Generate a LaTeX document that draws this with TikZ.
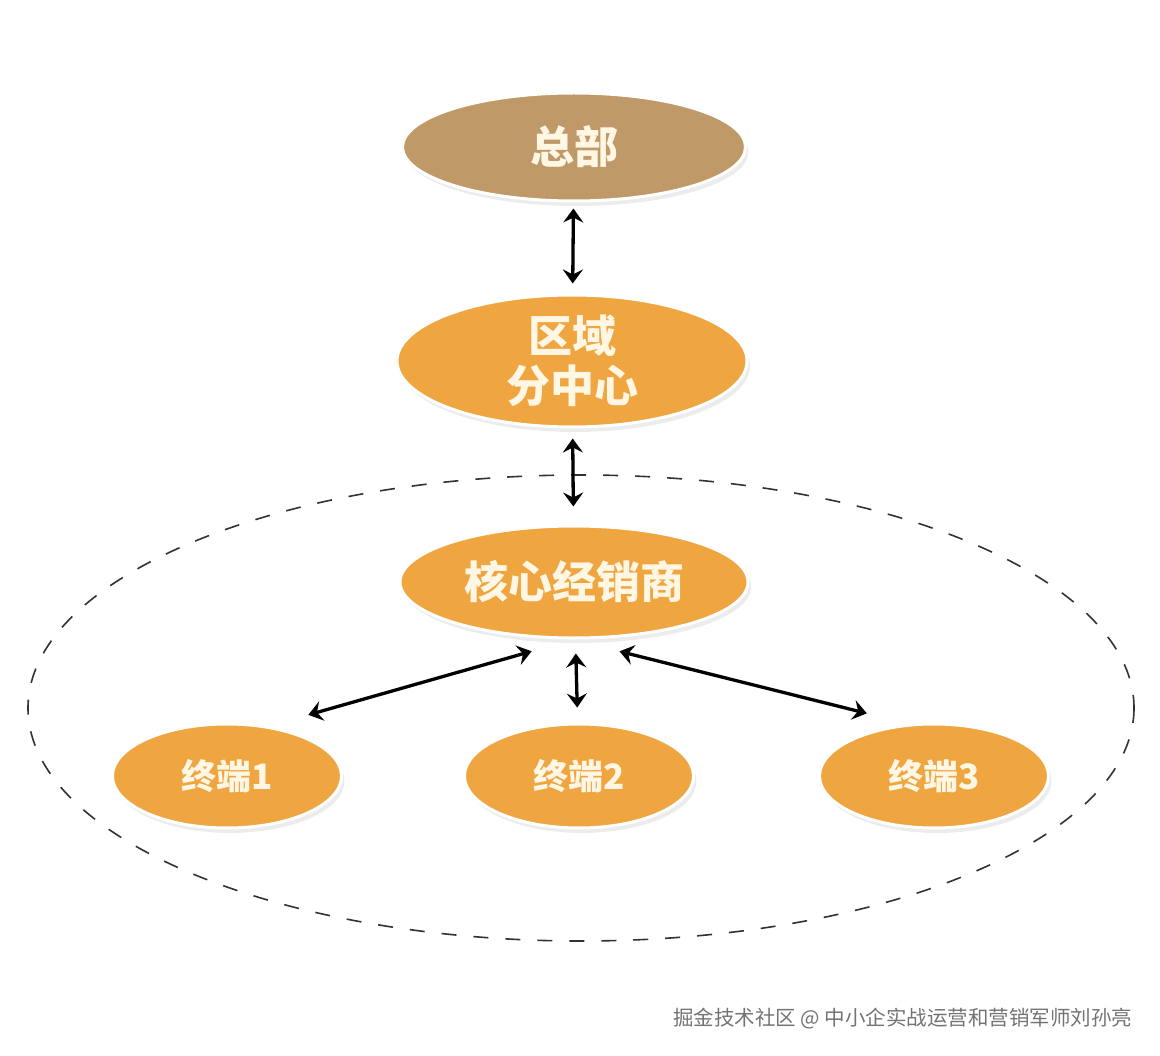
\documentclass[tikz,border=0pt]{standalone}
\usepackage{fontspec}
\newfontfamily\cjk{Noto Sans CJK SC}
\usetikzlibrary{shapes.geometric,arrows.meta,shadows}
\definecolor{hqtan}{RGB}{192,153,104}
\definecolor{unitorange}{RGB}{239,165,64}
\definecolor{labelcream}{RGB}{255,246,228}
\definecolor{ringgray}{RGB}{50,50,50}

\begin{document}
\begin{tikzpicture}[x=1pt, y=-1pt,
    unit/.style={ellipse, draw=white, line width=3pt, fill=unitorange, inner sep=0pt,
        text=labelcream, align=center, font=\cjk\bfseries\fontsize{44}{50}\selectfont,
        drop shadow={shadow xshift=3pt, shadow yshift=-5pt, opacity=0.15}},
    link/.style={{Stealth[length=14pt,width=20pt,inset=5pt]}-{Stealth[length=14pt,width=20pt,inset=5pt]}, line width=3.3pt}]
    \useasboundingbox (0,0) rectangle (1160,1056);
    \draw[ringgray, line width=1.6pt, dash pattern=on 15pt off 17pt] (581,708) ellipse [x radius=553, y radius=233];
    \node[unit, fill=hqtan, minimum width=343pt, minimum height=108pt] (hq) at (574,147) {总部};
    \node[unit, minimum width=350pt, minimum height=132pt] (region) at (572,361) {区域\\分中心};
    \node[unit, minimum width=348pt, minimum height=112pt] (core) at (574,582) {核心经销商};
    \foreach \n/\x in {1/227,2/579,3/934}
        \node[unit, minimum width=229pt, minimum height=104pt, font=\cjk\bfseries\fontsize{35}{40}\selectfont] (t\n) at (\x,776) {终端\n};
    \draw[link, shorten <=6pt, shorten >=10pt] (hq) -- (region);
    \draw[link, shorten <=10pt, shorten >=18pt] (region) -- (core);
    \draw[link, shorten <=14pt, shorten >=15pt] (core) -- (t2);
    \draw[link, shorten <=43pt, shorten >=41pt] (core.-91) -- (t1.50);
    \draw[link, shorten <=49pt, shorten >=43pt] (core.-92) -- (t3.116);
    \node[anchor=east, text=gray!90!black, font=\cjk\fontsize{20.5}{24}\selectfont] (credit) at (1136,1019) {掘金技术社区 @ 中小企实战运营和营销军师刘孙亮};
\end{tikzpicture}
\end{document}
